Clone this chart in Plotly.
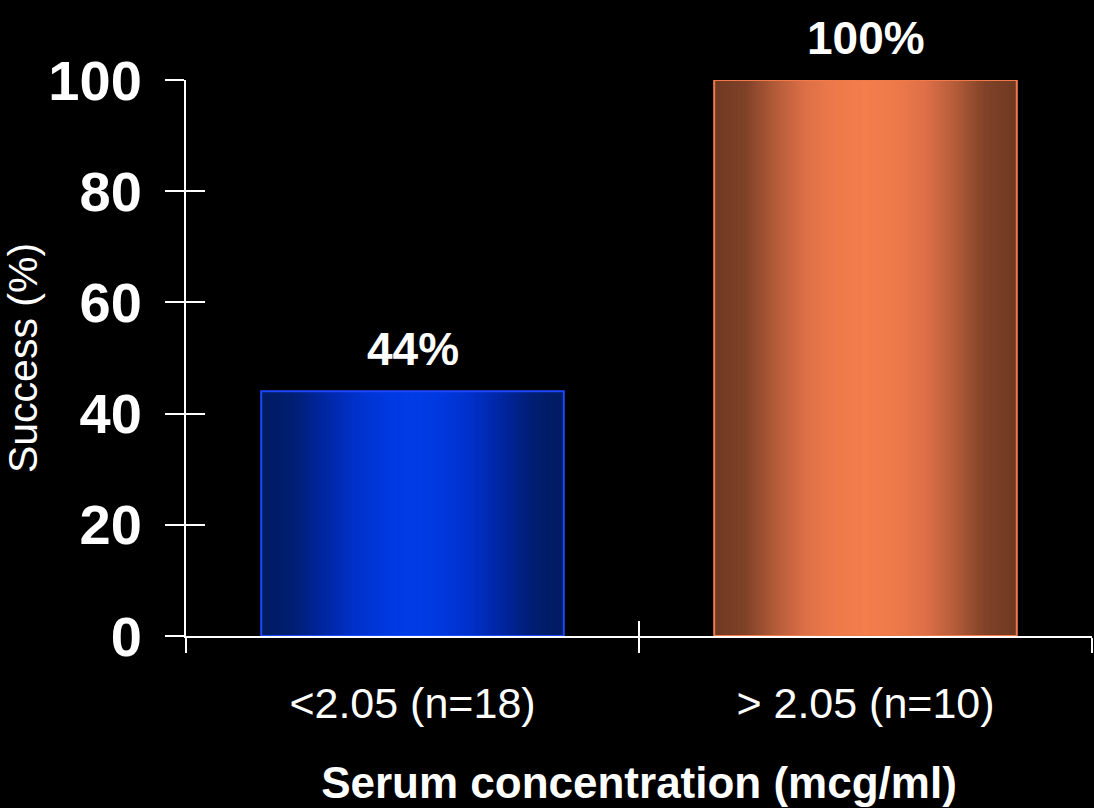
import plotly.graph_objects as go

# Data
categories = ["<2.05 (n=18)", "> 2.05 (n=10)"]
success_pct = [44, 100]
y_ticks = [0, 20, 40, 60, 80, 100]

# Shading ramps per bar: (t, colour) with t = 0 at bar centre, 1 at bar edge
blue_ramp = [(0.0, (0, 60, 230)), (0.2, (0, 56, 222)), (0.4, (0, 48, 200)),
             (0.6, (0, 38, 160)), (0.8, (0, 30, 114)), (1.0, (0, 28, 96))]
orange_ramp = [(0.0, (244, 126, 76)), (0.2, (238, 122, 74)), (0.4, (222, 112, 72)),
               (0.6, (180, 92, 58)), (0.8, (128, 66, 40)), (1.0, (112, 58, 34))]
edge_colors = ["#1a48ff", "#f27a4a"]

BAR_WIDTH = 0.668
N_STEPS = 60
SANS = "Liberation Sans, Arial, sans-serif"


def ramp_color(ramp, t):
    for (t0, c0), (t1, c1) in zip(ramp, ramp[1:]):
        if t0 <= t <= t1:
            f = (t - t0) / (t1 - t0)
            r, g, b = (round(a + (bb - a) * f) for a, bb in zip(c0, c1))
            return f"rgb({r},{g},{b})"
    r, g, b = ramp[-1][1]
    return f"rgb({r},{g},{b})"


fig = go.Figure()

# Cylinder-like shading: nested bars, each narrower one drawn on top
for k in range(N_STEPS):
    t = 1.0 - k / N_STEPS
    w = BAR_WIDTH * t
    fig.add_trace(go.Bar(
        x=categories, y=success_pct,
        width=[w] * len(categories),
        marker=dict(color=[ramp_color(blue_ramp, t), ramp_color(orange_ramp, t)],
                    line=dict(width=0)),
        showlegend=False, hoverinfo="skip",
    ))

# Bar outlines
fig.add_trace(go.Bar(
    x=categories, y=success_pct,
    width=[BAR_WIDTH] * len(categories),
    marker=dict(color="rgba(0,0,0,0)", line=dict(color=edge_colors, width=2)),
    showlegend=False, hoverinfo="skip",
))

# Helper trace so the inner-tick axes are drawn
fig.add_trace(go.Scatter(x=[None], y=[None], xaxis="x2", yaxis="y2",
                         showlegend=False, hoverinfo="skip"))

# Value labels above bars
for cat, v in zip(categories, success_pct):
    fig.add_annotation(x=cat, y=v, text=f"<b>{v}%</b>", showarrow=False,
                       yanchor="bottom", yshift=14,
                       font=dict(family=SANS, size=46, color="white"))

fig.update_layout(
    barmode="overlay",
    width=1094, height=808,
    margin=dict(l=186, r=2, t=80, b=172, autoexpand=False),
    paper_bgcolor="black", plot_bgcolor="black",
    xaxis=dict(
        type="category", categoryarray=categories, range=[-0.5, 1.5],
        automargin=False,
        tickson="boundaries", ticks="outside", ticklen=15, tickwidth=2,
        tickcolor="white", showline=True, linecolor="white", linewidth=2,
        showgrid=False, zeroline=False, ticklabelstandoff=28,
        tickfont=dict(family=SANS, size=43, color="white"),
        title=dict(text="<b>Serum concentration (mcg/ml)</b>", standoff=42,
                   font=dict(family=SANS, size=44, color="white")),
    ),
    yaxis=dict(
        range=[0, 100], tickvals=y_ticks, ticks="outside", ticklen=19,
        automargin=False,
        tickwidth=2, tickcolor="white", showline=True, linecolor="white",
        linewidth=2, showgrid=False, zeroline=False, ticklabelstandoff=12,
        tickfont=dict(family=SANS, size=56, color="white", weight="bold"),
        title=dict(text="Success (%)", standoff=20,
                   font=dict(family=SANS, size=41, color="white")),
    ),
    xaxis2=dict(
        overlaying="x", anchor="y", side="bottom", range=[-0.5, 1.5],
        automargin=False,
        tickvals=[-0.5, 0.5, 1.5], ticks="inside", ticklen=15, tickwidth=2,
        tickcolor="white", showticklabels=False, showline=False,
        showgrid=False, zeroline=False,
    ),
    yaxis2=dict(
        overlaying="y", anchor="x", side="left", range=[0, 100],
        automargin=False,
        tickvals=y_ticks, ticks="inside", ticklen=19, tickwidth=2,
        tickcolor="white", showticklabels=False, showline=False,
        showgrid=False, zeroline=False,
    ),
)

fig.write_html("out.html")
